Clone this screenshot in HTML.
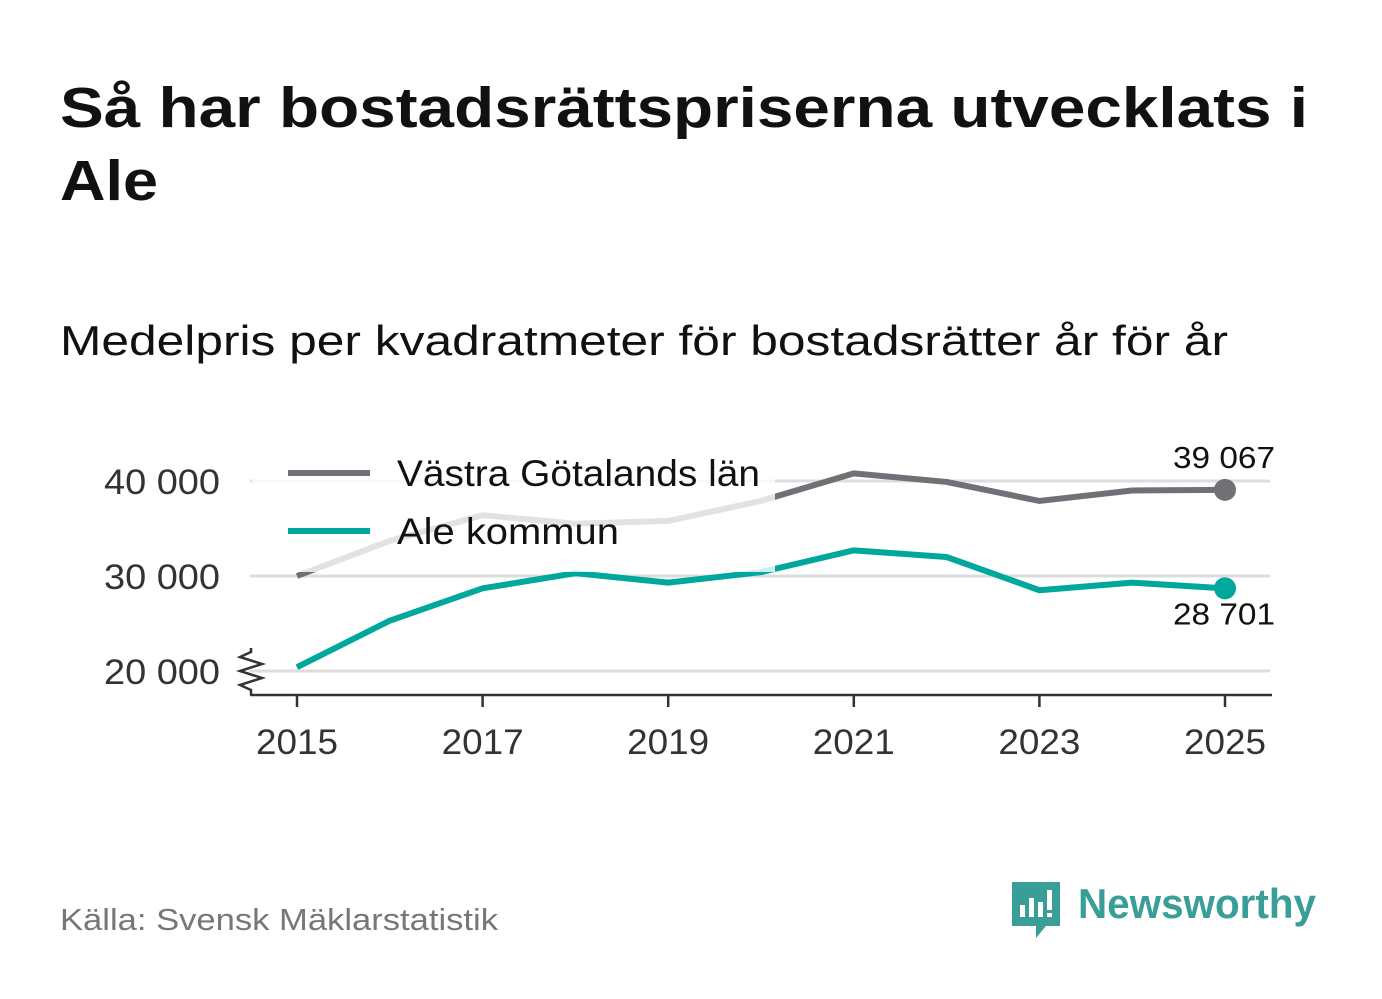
<!DOCTYPE html>
<html><head><meta charset="utf-8">
<style>
html,body{margin:0;padding:0;background:#fff;width:1382px;height:999px;overflow:hidden;font-family:"Liberation Sans",sans-serif;}
</style></head>
<body>
<svg width="1382" height="999" viewBox="0 0 1382 999" xmlns="http://www.w3.org/2000/svg">
<text x="60" y="127" font-size="57" font-weight="bold" fill="#111" textLength="1248" lengthAdjust="spacingAndGlyphs">Så har bostadsrättspriserna utvecklats i</text>
<text x="60" y="200" font-size="57" font-weight="bold" fill="#111" textLength="98" lengthAdjust="spacingAndGlyphs">Ale</text>
<text x="60" y="355" font-size="42" fill="#111" textLength="1168" lengthAdjust="spacingAndGlyphs">Medelpris per kvadratmeter för bostadsrätter år för år</text>
<g id="plot"></g>
<text x="60" y="930" font-size="31" fill="#777" textLength="438" lengthAdjust="spacingAndGlyphs">Källa: Svensk Mäklarstatistik</text>
<g>
<path d="M1012 882 h48 v44 h-14 l-10 12 v-12 h-24 z" fill="#3a9e98"/>
<rect x="1020" y="905" width="5" height="12" fill="#fff"/><rect x="1029" y="898" width="5" height="19" fill="#fff"/><rect x="1038" y="902" width="5" height="15" fill="#fff"/><rect x="1047" y="890" width="5" height="20" fill="#fff"/><rect x="1047" y="913" width="5" height="4" fill="#fff"/>
<text x="1078" y="918" font-size="42" font-weight="bold" fill="#3a9e98" textLength="238" lengthAdjust="spacingAndGlyphs">Newsworthy</text>
</g>
</svg>
<script>
const years = [2015,2016,2017,2018,2019,2020,2021,2022,2023,2024,2025];
const vastra = [30000,33700,36400,35500,35800,37900,40800,39900,37900,39000,39067];
const ale = [20400,25300,28700,30300,29300,30400,32700,32000,28500,29300,28701];
const yTicks = [20000,30000,40000];
const yTickLabels = ["20 000","30 000","40 000"];
const xTickYears = [2015,2017,2019,2021,2023,2025];
const endLabels = ["39 067","28 701"];

const NS="http://www.w3.org/2000/svg";
const g=document.getElementById('plot');
const x=v=>297+(v-2015)*92.8;
const y=v=>671-(v-20000)*0.0095;
function mk(t,a){const e=document.createElementNS(NS,t);for(const k in a)e.setAttribute(k,a[k]);g.appendChild(e);return e;}
yTicks.forEach((t,i)=>{
  const l=mk('line',{x1:250,x2:1270,y1:y(t),y2:y(t),stroke:'#ddd','stroke-width':3});
  
  
  const tx=mk('text',{x:220,y:y(t)+13,'font-size':35,fill:'#333','text-anchor':'end',textLength:116,lengthAdjust:'spacingAndGlyphs'});
  tx.textContent=yTickLabels[i];
  
  
});
let ax=mk('line',{x1:250,x2:1272,y1:695,y2:695,stroke:'#333','stroke-width':2.5});


let br=mk('path',{d:'M251 648 L251 652 L240 657 L262 664 L240 671 L262 678 L240 685 L251 690 L251 695',fill:'none',stroke:'#333','stroke-width':2.5});


xTickYears.forEach(yr=>{
  const l=mk('line',{x1:x(yr),x2:x(yr),y1:695,y2:707,stroke:'#333','stroke-width':2.5});
  
  
  const t=mk('text',{x:x(yr),y:754,'font-size':35,fill:'#333','text-anchor':'middle',textLength:82,lengthAdjust:'spacingAndGlyphs'});
  t.textContent=yr;
  
  
});
function line(data,color,name){
  const p=mk('polyline',{points:data.map((v,i)=>x(years[i])+','+y(v)).join(' '),fill:'none',stroke:color,'stroke-width':6,'stroke-linejoin':'round'});
  
  
  const n=data.length-1;
  const c=mk('circle',{cx:x(years[n]),cy:y(data[n]),r:11,fill:color});
  
  
}
line(vastra,'#707076','line-vastra-gotaland');
line(ale,'#00a79d','line-ale');
let bg=mk('rect',{x:252,y:440,width:523,height:132,fill:'#fff','fill-opacity':0.8});


const leg=[['Västra Götalands län','#707076',473,363],['Ale kommun','#00a79d',531,222]];
leg.forEach(([lab,c,yy,w])=>{
  const l=mk('line',{x1:288,x2:370,y1:yy,y2:yy,stroke:c,'stroke-width':6});
  
  
  const t=mk('text',{x:397,y:yy+13,'font-size':37,fill:'#111',textLength:w,lengthAdjust:'spacingAndGlyphs'});
  t.textContent=lab;
  
  
});
let e1=mk('text',{x:1275,y:y(vastra[10])-22,'font-size':31,fill:'#111','text-anchor':'end',textLength:102,lengthAdjust:'spacingAndGlyphs'});
e1.textContent=endLabels[0];


let e2=mk('text',{x:1275,y:y(ale[10])+36,'font-size':31,fill:'#111','text-anchor':'end',textLength:102,lengthAdjust:'spacingAndGlyphs'});
e2.textContent=endLabels[1];


</script>
</body></html>
